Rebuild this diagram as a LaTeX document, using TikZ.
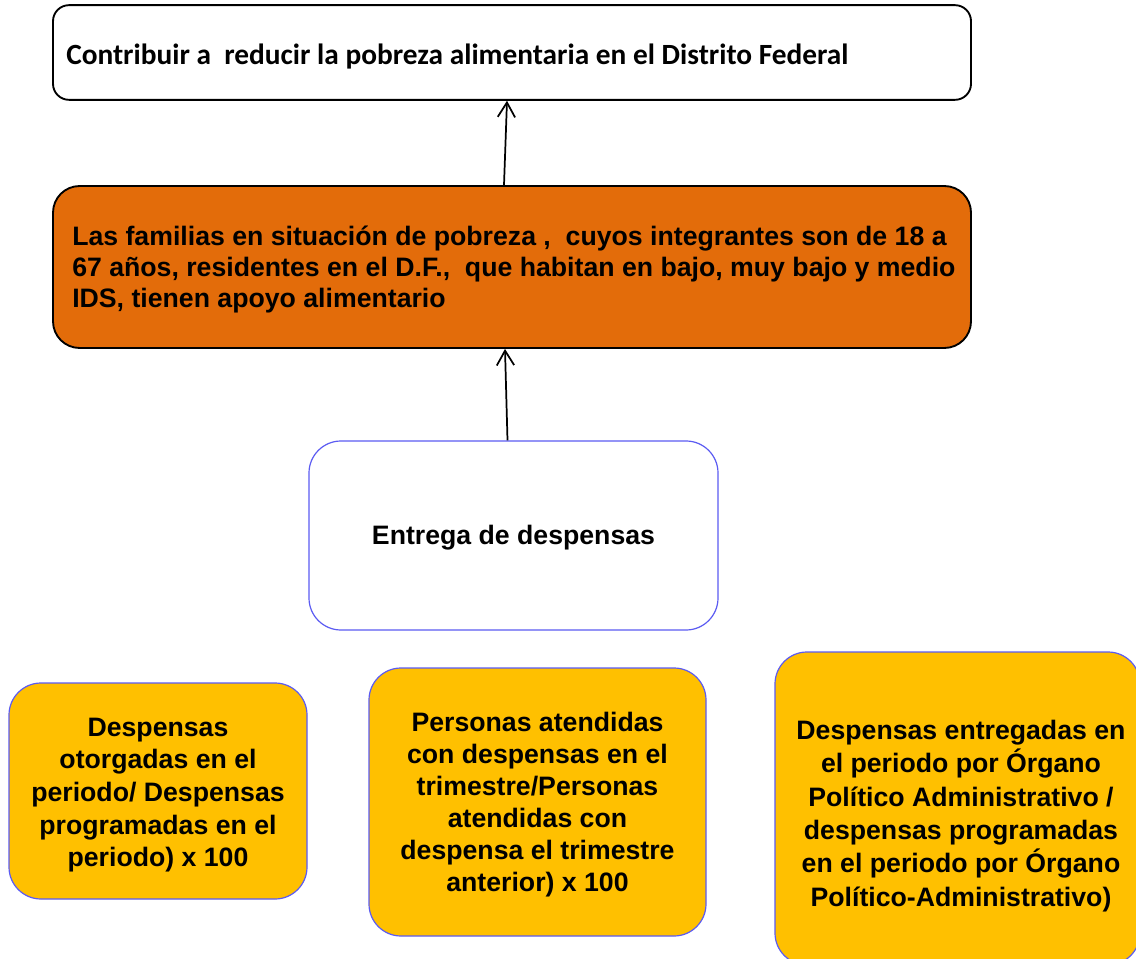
\documentclass[tikz,border=0pt]{standalone}
\usepackage{fontspec}
\setmainfont{Liberation Sans}
\newfontfamily\calfont{Carlito}
\usetikzlibrary{arrows.meta}
\definecolor{orangebox}{HTML}{E36C0A}
\definecolor{goldbox}{HTML}{FFC000}
\definecolor{blueline}{HTML}{5B5BF2}
\tikzset{
  topbox/.style={draw=black, line width=1.4pt, fill=white, rounded corners=12pt, minimum width=688.5pt, minimum height=71pt, inner sep=0pt},
  orbox/.style={draw=black, line width=1.4pt, fill=orangebox, rounded corners=20pt, minimum width=688.5pt, minimum height=121.5pt, inner sep=0pt},
  actbox/.style={draw=blueline, line width=0.9pt, fill=white, rounded corners=24pt, minimum width=306.75pt, minimum height=141.75pt, inner sep=0pt},
  indbox/.style={draw=blueline, line width=0.9pt, fill=goldbox, rounded corners=24pt, inner sep=0pt},
  txt/.style={inner sep=0pt, align=center, font=\bfseries\fontsize{20}{24.5}\selectfont},
  arr/.style={draw=black, line width=1.3pt, -{Straight Barb[length=11pt,width=13pt,line width=1.3pt]}}
}
\begin{document}
\begin{tikzpicture}[x=0.75pt,y=-0.75pt]
\useasboundingbox (0,0) rectangle (1136,959);
\node[topbox] (goal) at (512,52.5) {};
\node[anchor=west, inner sep=0pt, font=\calfont\bfseries\fontsize{22}{26}\selectfont] (goaltxt) at (66,57) {Contribuir a\ \ reducir la pobreza alimentaria en el Distrito Federal};
\node[orbox] (purpose) at (512,267) {};
\node[anchor=west, inner sep=0pt, align=left, font=\bfseries\fontsize{20}{23.25}\selectfont] (purptxt) at (72,269) {Las familias en situación de pobreza ,\ \ cuyos integrantes son de 18 a\\67 años, residentes en el D.F.,\ \ que habitan en bajo, muy bajo y medio\\IDS, tienen apoyo alimentario};
\node[actbox] (comp) at (513.5,535.5) {};
\node[txt] (comptxt) at (513.5,538) {Entrega de despensas};
\node[indbox, minimum width=223.5pt, minimum height=162pt] (ind1) at (158,791) {};
\node[txt] (ind1txt) at (158,795) {Despensas\\otorgadas en el\\periodo/ Despensas\\programadas en el\\periodo) x 100};
\node[indbox, minimum width=252.75pt, minimum height=201pt] (ind2) at (537.5,802) {};
\node[txt, font=\bfseries\fontsize{20}{24}\selectfont] (ind2txt) at (537.5,805) {Personas atendidas\\con despensas en el\\trimestre/Personas\\atendidas con\\despensa el trimestre\\anterior) x 100};
\node[indbox, minimum width=273.75pt, minimum height=234.75pt] (ind3) at (957.5,808.5) {};
\node[txt, font=\bfseries\fontsize{20}{25}\selectfont] (ind3txt) at (961,816) {Despensas entregadas en\\el periodo por Órgano\\Político Administrativo /\\despensas programadas\\en el periodo por Órgano\\Político-Administrativo)};
\draw[arr] ([xshift=-6pt]purpose.north) -- ([xshift=-3.75pt]goal.south);
\draw[arr] ([xshift=-4.5pt]comp.north) -- ([xshift=-5.25pt]purpose.south);
\end{tikzpicture}
\end{document}
